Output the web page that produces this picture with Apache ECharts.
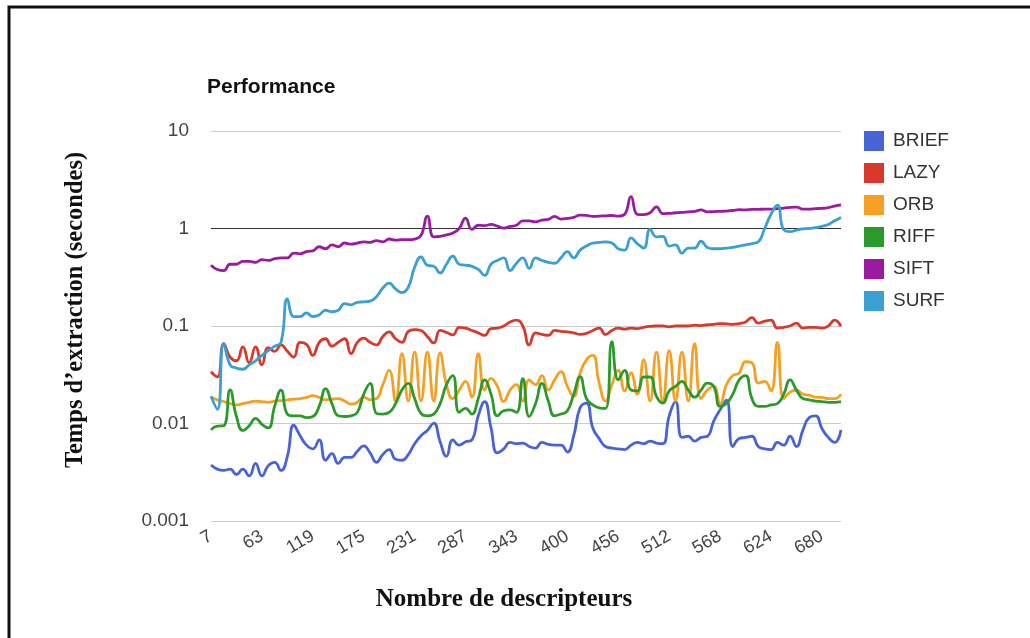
<!DOCTYPE html>
<html>
<head>
<meta charset="utf-8">
<title>Performance</title>
<script src="https://cdn.jsdelivr.net/npm/echarts@6/dist/echarts.min.js"></script>
<style>
  html, body { margin: 0; padding: 0; background: #ffffff; }
  #chart { width: 1030px; height: 638px; }
</style>
</head>
<body>
<div id="chart"></div>
<script>
// Number of descriptors (x axis categories)
const descriptors = [
  7, 14, 21, 28, 35, 42, 49, 56, 63, 70, 77, 84, 91, 98, 105, 112, 119, 126, 133, 140,
  147, 154, 161, 168, 175, 182, 189, 196, 203, 210, 217, 224, 231, 238, 245, 252, 259, 266, 273, 280,
  287, 294, 301, 308, 315, 322, 329, 336, 343, 351, 358, 365, 372, 379, 386, 393, 400, 407, 414, 421,
  428, 435, 442, 449, 456, 463, 470, 477, 484, 491, 498, 505, 512, 519, 526, 533, 540, 547, 554, 561,
  568, 575, 582, 589, 596, 603, 610, 617, 624, 631, 638, 645, 652, 659, 666, 673, 680, 687, 694, 701
];

// Extraction time in seconds for each descriptor
const brief = [
  0.00375, 0.0034, 0.0033, 0.0034, 0.003, 0.0034, 0.0029, 0.0039, 0.0029, 0.0037,
  0.004, 0.0033, 0.0046, 0.0096, 0.0075, 0.006, 0.0055, 0.0068, 0.0042, 0.0049,
  0.0039, 0.0045, 0.0045, 0.0052, 0.0059, 0.005, 0.004, 0.0048, 0.0054, 0.0043,
  0.0042, 0.0048, 0.0062, 0.0075, 0.0085, 0.0101, 0.0065, 0.0046, 0.0068, 0.006,
  0.0065, 0.0068, 0.012, 0.0168, 0.009, 0.005, 0.0055, 0.0064, 0.0062, 0.0063,
  0.0058, 0.0056, 0.0064, 0.0061, 0.006, 0.006, 0.0051, 0.0075, 0.0145, 0.0162,
  0.009, 0.007, 0.0058, 0.0056, 0.0055, 0.0054, 0.006, 0.0064, 0.0062, 0.0066,
  0.0063, 0.0062, 0.012, 0.0168, 0.0072, 0.0074, 0.0066, 0.0072, 0.0074, 0.0106,
  0.0138, 0.0174, 0.0058, 0.007, 0.0072, 0.0074, 0.0058, 0.0055, 0.0054, 0.0064,
  0.006, 0.0074, 0.0058, 0.0085, 0.0115, 0.012, 0.0089, 0.0072, 0.0064, 0.0086
];
const lazy = [
  0.034, 0.030, 0.066, 0.048, 0.044, 0.061, 0.042, 0.061, 0.040, 0.060,
  0.055, 0.064, 0.055, 0.048, 0.068, 0.065, 0.050, 0.068, 0.074, 0.062,
  0.068, 0.074, 0.052, 0.068, 0.075, 0.068, 0.064, 0.078, 0.087, 0.074,
  0.068, 0.088, 0.092, 0.090, 0.078, 0.067, 0.090, 0.086, 0.081, 0.097,
  0.095, 0.090, 0.085, 0.080, 0.094, 0.095, 0.100, 0.110, 0.115, 0.100,
  0.064, 0.085, 0.082, 0.080, 0.090, 0.088, 0.087, 0.085, 0.082, 0.084,
  0.090, 0.095, 0.082, 0.090, 0.095, 0.093, 0.095, 0.094, 0.097, 0.099,
  0.100, 0.100, 0.098, 0.100, 0.100, 0.100, 0.102, 0.101, 0.103, 0.104,
  0.106, 0.105, 0.104, 0.106, 0.110, 0.122, 0.107, 0.112, 0.115, 0.095,
  0.097, 0.100, 0.107, 0.095, 0.097, 0.097, 0.095, 0.100, 0.115, 0.099
];
const orb = [
  0.0186, 0.0175, 0.0168, 0.016, 0.0155, 0.016, 0.0165, 0.017, 0.0168, 0.0165,
  0.017, 0.0172, 0.0175, 0.0178, 0.018, 0.0185, 0.0193, 0.0185, 0.0175, 0.0178,
  0.018, 0.017, 0.0158, 0.0165, 0.0186, 0.0175, 0.018, 0.025, 0.035, 0.017,
  0.052, 0.017, 0.054, 0.017, 0.054, 0.017, 0.053, 0.025, 0.018, 0.022,
  0.027, 0.0186, 0.052, 0.022, 0.029, 0.024, 0.0168, 0.022, 0.025, 0.017,
  0.028, 0.025, 0.031, 0.022, 0.028, 0.034, 0.024, 0.019, 0.033, 0.045,
  0.05, 0.026, 0.017, 0.025, 0.035, 0.0216, 0.033, 0.02, 0.045, 0.017,
  0.054, 0.017, 0.056, 0.017, 0.054, 0.017, 0.066, 0.018, 0.022, 0.024,
  0.016, 0.025, 0.031, 0.033, 0.043, 0.042, 0.026, 0.027, 0.0216, 0.068,
  0.018, 0.021, 0.022, 0.02, 0.0195, 0.0186, 0.0185, 0.018, 0.018, 0.02
];
const riff = [
  0.0086, 0.0094, 0.0095, 0.0221, 0.0118, 0.0085, 0.0095, 0.0113, 0.0098, 0.009,
  0.015, 0.022, 0.0125, 0.012, 0.012, 0.0115, 0.0118, 0.015, 0.0228, 0.016,
  0.012, 0.0118, 0.012, 0.013, 0.02, 0.0258, 0.0127, 0.0125, 0.013, 0.016,
  0.022, 0.0258, 0.018, 0.0127, 0.012, 0.0125, 0.016, 0.025, 0.031, 0.013,
  0.0143, 0.0125, 0.018, 0.028, 0.02, 0.012, 0.0135, 0.0138, 0.013, 0.0288,
  0.0118, 0.016, 0.0258, 0.017, 0.012, 0.0125, 0.0135, 0.02, 0.0303, 0.018,
  0.0155, 0.0145, 0.0143, 0.069, 0.028, 0.035, 0.022, 0.0216, 0.03, 0.03,
  0.019, 0.0162, 0.0216, 0.024, 0.027, 0.022, 0.0186, 0.022, 0.026, 0.024,
  0.015, 0.016, 0.02, 0.028, 0.031, 0.018, 0.015, 0.015, 0.0155, 0.016,
  0.02, 0.028, 0.022, 0.018, 0.0175, 0.017, 0.0168, 0.0165, 0.0165, 0.0168
];
const sift = [
  0.42, 0.38, 0.37, 0.43, 0.43, 0.46, 0.46, 0.45, 0.48, 0.47,
  0.49, 0.50, 0.50, 0.56, 0.55, 0.58, 0.59, 0.65, 0.62, 0.68,
  0.65, 0.71, 0.69, 0.71, 0.73, 0.72, 0.75, 0.73, 0.78, 0.76,
  0.77, 0.77, 0.78, 0.85, 1.34, 0.82, 0.83, 0.86, 0.90, 1.00,
  1.28, 0.98, 1.08, 1.07, 1.10, 1.06, 1.01, 1.05, 1.08, 1.20,
  1.20, 1.17, 1.22, 1.24, 1.33, 1.25, 1.27, 1.30, 1.37, 1.36,
  1.33, 1.34, 1.35, 1.36, 1.34, 1.40, 2.12, 1.40, 1.39, 1.45,
  1.67, 1.42, 1.43, 1.45, 1.46, 1.48, 1.50, 1.55, 1.48, 1.49,
  1.50, 1.51, 1.53, 1.56, 1.55, 1.57, 1.57, 1.58, 1.58, 1.60,
  1.62, 1.65, 1.66, 1.58, 1.58, 1.60, 1.61, 1.64, 1.70, 1.75
];
const surf = [
  0.019, 0.014, 0.066, 0.040, 0.037, 0.036, 0.040, 0.044, 0.050, 0.056,
  0.062, 0.068, 0.19, 0.125, 0.125, 0.136, 0.125, 0.13, 0.145, 0.14,
  0.145, 0.17, 0.165, 0.175, 0.177, 0.18, 0.2, 0.245, 0.275, 0.24,
  0.22, 0.25, 0.4, 0.51, 0.42, 0.41, 0.35, 0.43, 0.52, 0.43,
  0.42, 0.41, 0.38, 0.33, 0.43, 0.47, 0.5, 0.37, 0.44, 0.5,
  0.39, 0.5, 0.47, 0.45, 0.44, 0.5, 0.58, 0.5, 0.6, 0.66,
  0.71, 0.72, 0.73, 0.71, 0.62, 0.6, 0.8, 0.7, 0.63, 0.98,
  0.82, 0.83, 0.66, 0.68, 0.56, 0.63, 0.63, 0.74, 0.64, 0.62,
  0.62, 0.63, 0.64, 0.66, 0.68, 0.7, 0.73, 1.0, 1.4, 1.74,
  0.97, 0.93, 0.96, 0.99, 1.0, 1.02, 1.05, 1.1, 1.2, 1.3
];

const seriesNames = ['BRIEF', 'LAZY', 'ORB', 'RIFF', 'SIFT', 'SURF'];
const seriesValues = [brief, lazy, orb, riff, sift, surf];
const seriesColors = ['#4863d5', '#d9392a', '#f5a023', '#2b9a2b', '#9a1aa0', '#3a9fd2'];

// Decade tick labels of the logarithmic y axis, bottom to top
const yTickLabels = ['0.001', '0.01', '0.1', '1', '10'];

const SANS = '"Liberation Sans", Arial, sans-serif';
const SERIF = '"Liberation Serif", "Times New Roman", serif';

const chart = echarts.init(document.getElementById('chart'), null, { renderer: 'canvas' });

const series = seriesNames.map((name, k) => ({
  name: name,
  type: 'line',
  data: seriesValues[k],
  smooth: 0.5,
  showSymbol: false,
  symbol: 'none',
  color: seriesColors[k],
  lineStyle: { width: 2.8, color: seriesColors[k] },
  z: 3 + k,
  emphasis: { disabled: true }
}));

chart.setOption({
  animation: false,
  backgroundColor: '#ffffff',
  title: {
    text: 'Performance',
    left: 207,
    top: 77,
    padding: 0,
    textStyle: { fontFamily: SANS, fontSize: 21, fontWeight: 'bold', color: '#111' }
  },
  legend: {
    data: seriesNames,
    orient: 'vertical',
    left: 864,
    top: 131,
    padding: 0,
    icon: 'rect',
    itemWidth: 20,
    itemHeight: 20,
    itemGap: 12,
    textStyle: { fontFamily: SANS, fontSize: 19, color: '#333', padding: [0, 0, 0, 4] }
  },
  grid: { left: 211, right: 189, top: 131, bottom: 117, containLabel: false },
  xAxis: {
    type: 'category',
    data: descriptors,
    boundaryGap: false,
    axisLine: { show: false },
    axisTick: { show: false },
    splitLine: { show: false },
    axisLabel: {
      interval: 7,
      rotate: 30,
      margin: 14,
      fontFamily: SANS,
      fontSize: 18,
      color: '#444'
    }
  },
  yAxis: {
    type: 'log',
    logBase: 10,
    min: 0.001,
    max: 10,
    axisLine: { show: false },
    axisTick: { show: false },
    axisLabel: {
      margin: 22,
      fontFamily: SANS,
      fontSize: 19,
      color: '#444',
      formatter: function (v) {
        const idx = Math.round(Math.log10(v)) + 3;
        return yTickLabels[idx] !== undefined ? yTickLabels[idx] : '';
      }
    },
    splitLine: {
      show: true,
      lineStyle: { color: ['#cccccc', '#cccccc', '#cccccc', '#333333', '#cccccc'], width: 1 }
    }
  },
  series: series,
  graphic: [
    {
      type: 'rect',
      silent: true,
      z: 100,
      shape: { x: 9, y: 7, width: 1100, height: 700 },
      style: { fill: 'none', stroke: '#111', lineWidth: 3 }
    },
    {
      type: 'text',
      silent: true,
      x: 76,
      y: 310,
      rotation: Math.PI / 2,
      style: {
        text: 'Temps d\u2019extraction (secondes)',
        fontFamily: SERIF,
        fontSize: 24.5,
        fontWeight: 'bold',
        fill: '#111',
        align: 'center',
        verticalAlign: 'middle'
      }
    },
    {
      type: 'text',
      silent: true,
      x: 504,
      y: 600,
      style: {
        text: 'Nombre de descripteurs',
        fontFamily: SERIF,
        fontSize: 25,
        fontWeight: 'bold',
        fill: '#111',
        align: 'center',
        verticalAlign: 'middle'
      }
    }
  ]
});
</script>
</body>
</html>
